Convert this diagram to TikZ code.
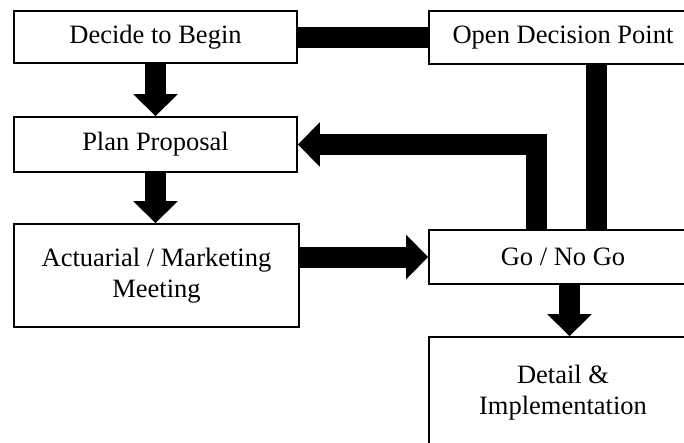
\documentclass[tikz,border=0pt]{standalone}
\usepackage{fontspec}
\setmainfont{Liberation Serif}
\usetikzlibrary{arrows.meta}
\begin{document}
\begin{tikzpicture}[x=1pt,y=-1pt,
  box/.style={draw=black, line width=1.6pt, fill=white, inner sep=0pt,
    align=center, font=\fontsize{26.5}{31}\selectfont},
  bar/.style={draw=black, line width=21pt},
  flow/.style={bar, -{Triangle[length=22pt,width=43pt]}}]
\useasboundingbox (0,0) rectangle (684,442);
\clip (0,0) rectangle (684,442);

% left column
\node[box, minimum width=283pt, minimum height=52pt]  (decide) at (155.5,37)   {Decide to Begin};
\node[box, minimum width=283pt, minimum height=55pt]  (plan)   at (155.5,144.5) {Plan Proposal};
\node[box, minimum width=285pt, minimum height=103pt] (act)    at (156.5,275.5) {Actuarial / Marketing\\Meeting};

% right column (runs past the right edge)
\node[box, minimum width=268pt, minimum height=53pt]  (open)   at (563,37.5)  {Open Decision Point};
\node[box, minimum width=268pt, minimum height=54pt]  (go)     at (563,257)   {Go / No Go};
\node[box, minimum width=268pt, minimum height=112pt] (detail) at (563,393)   {Detail \&\\Implementation};

% connectors
\draw[bar]  (decide.east) -- (decide.east -| open.west);
\draw[flow] (decide.south) -- (plan.north);
\draw[flow] (plan.south) -- (plan.south |- act.north);
\draw[bar]  ([xshift=33.5pt]open.south) -- ([xshift=33.5pt]go.north);
\draw[flow] ([xshift=-26.5pt]go.north) |- (plan.east);
\draw[flow] (act.east |- go.west) -- (go.west);
\draw[flow] ([xshift=6.5pt]go.south) -- ([xshift=6.5pt]detail.north);
\end{tikzpicture}
\end{document}
